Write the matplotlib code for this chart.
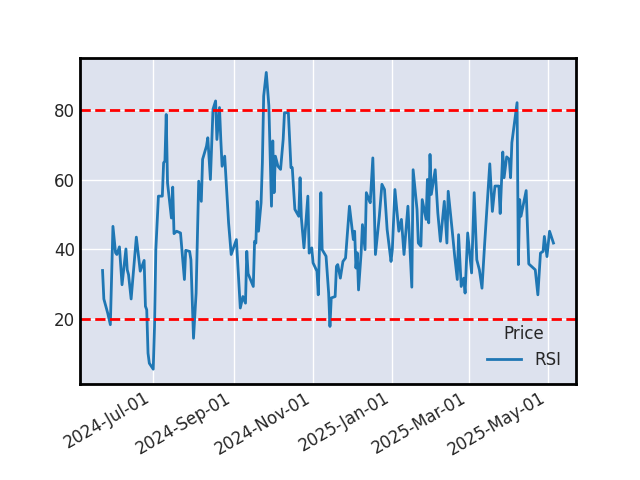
import matplotlib
matplotlib.use("Agg")
import matplotlib.pyplot as plt
import matplotlib.dates as mdates
import pandas as pd

dates = [
    "2024-05-23", "2024-05-24", "2024-05-27", "2024-05-29", "2024-05-31", "2024-06-02",
    "2024-06-03", "2024-06-05", "2024-06-07", "2024-06-10", "2024-06-11", "2024-06-12",
    "2024-06-14", "2024-06-18", "2024-06-21", "2024-06-24", "2024-06-25", "2024-06-26",
    "2024-06-27", "2024-06-28", "2024-07-01", "2024-07-02", "2024-07-03", "2024-07-05",
    "2024-07-08", "2024-07-09", "2024-07-10", "2024-07-11", "2024-07-12", "2024-07-15",
    "2024-07-16", "2024-07-17", "2024-07-19", "2024-07-22", "2024-07-25", "2024-07-26",
    "2024-07-29", "2024-07-30", "2024-08-01", "2024-08-03", "2024-08-05", "2024-08-07",
    "2024-08-08", "2024-08-11", "2024-08-12", "2024-08-14", "2024-08-16", "2024-08-18",
    "2024-08-19", "2024-08-21", "2024-08-22", "2024-08-23", "2024-08-25", "2024-08-28",
    "2024-08-30", "2024-09-03", "2024-09-06", "2024-09-08", "2024-09-10", "2024-09-11",
    "2024-09-12", "2024-09-16", "2024-09-17", "2024-09-18", "2024-09-19", "2024-09-20",
    "2024-09-22", "2024-09-23", "2024-09-24", "2024-09-26", "2024-09-28", "2024-09-30",
    "2024-10-01", "2024-10-02", "2024-10-03", "2024-10-05", "2024-10-07", "2024-10-09",
    "2024-10-10", "2024-10-13", "2024-10-15", "2024-10-16", "2024-10-18", "2024-10-21",
    "2024-10-22", "2024-10-23", "2024-10-25", "2024-10-28", "2024-10-29", "2024-10-31",
    "2024-11-01", "2024-11-04", "2024-11-05", "2024-11-07", "2024-11-08", "2024-11-11",
    "2024-11-13", "2024-11-14", "2024-11-15", "2024-11-18", "2024-11-19", "2024-11-20",
    "2024-11-22", "2024-11-24", "2024-11-26", "2024-11-29", "2024-12-02", "2024-12-03",
    "2024-12-04", "2024-12-05", "2024-12-06", "2024-12-08", "2024-12-09", "2024-12-11",
    "2024-12-12", "2024-12-14", "2024-12-15", "2024-12-17", "2024-12-18", "2024-12-19",
    "2024-12-22", "2024-12-24", "2024-12-26", "2024-12-28", "2024-12-31", "2025-01-01",
    "2025-01-03", "2025-01-06", "2025-01-08", "2025-01-10", "2025-01-13", "2025-01-16",
    "2025-01-17", "2025-01-20", "2025-01-21", "2025-01-23", "2025-01-24", "2025-01-27",
    "2025-01-28", "2025-01-29", "2025-01-30", "2025-01-31", "2025-02-03", "2025-02-05",
    "2025-02-07", "2025-02-10", "2025-02-12", "2025-02-13", "2025-02-16", "2025-02-18",
    "2025-02-20", "2025-02-21", "2025-02-23", "2025-02-25", "2025-02-26", "2025-02-28",
    "2025-03-03", "2025-03-05", "2025-03-07", "2025-03-09", "2025-03-11", "2025-03-13",
    "2025-03-17", "2025-03-19", "2025-03-21", "2025-03-24", "2025-03-25", "2025-03-27",
    "2025-03-28", "2025-03-30", "2025-04-01", "2025-04-02", "2025-04-03", "2025-04-07",
    "2025-04-08", "2025-04-09", "2025-04-10", "2025-04-14", "2025-04-16", "2025-04-21",
    "2025-04-23", "2025-04-25", "2025-04-27", "2025-04-28", "2025-04-30", "2025-05-02",
    "2025-05-05",
]

rsi = [
    33.9, 25.7, 21.6, 18.3, 46.6, 39.0,
    38.5, 40.7, 29.8, 40.1, 34.1, 32.7,
    25.7, 43.5, 33.7, 36.8, 23.6, 22.6,
    10.1, 7.2, 5.5, 17.8, 39.9, 55.3,
    55.3, 64.9, 65.4, 78.8, 59.1, 49.0,
    57.9, 44.5, 45.2, 44.7, 31.3, 39.7,
    39.4, 37.0, 14.4, 27.4, 59.6, 53.8,
    65.9, 69.7, 72.1, 60.1, 80.3, 82.7,
    71.6, 80.8, 71.6, 63.9, 66.8, 47.6,
    38.5, 42.8, 23.1, 26.4, 24.5, 39.4,
    33.0, 29.3, 42.3, 41.8, 53.8, 45.2,
    53.4, 64.9, 84.1, 90.9, 81.3, 52.4,
    71.2, 56.3, 66.8, 63.9, 63.0, 71.6,
    79.3, 79.3, 63.5, 63.5, 51.5, 49.5,
    60.6, 49.0, 40.4, 55.3, 38.9, 40.4,
    36.1, 33.7, 26.9, 56.3, 39.9, 38.0,
    27.4, 17.8, 26.0, 26.4, 35.1, 35.6,
    31.7, 36.5, 37.5, 52.4, 42.8, 45.2,
    34.6, 39.0, 28.3, 39.0, 47.1, 39.9,
    56.3, 54.3, 53.4, 66.3, 53.4, 38.5,
    49.5, 58.7, 57.2, 45.7, 36.5, 39.9,
    57.2, 45.2, 48.6, 38.5, 52.4, 29.1,
    62.9, 51.5, 41.8, 40.9, 54.3, 48.6,
    60.1, 47.6, 67.3, 55.8, 62.9, 50.5,
    42.3, 53.8, 41.8, 56.7, 45.7, 38.0,
    31.3, 44.2, 29.3, 31.7, 27.4, 44.7,
    33.2, 56.3, 37.0, 34.1, 28.8, 41.3,
    64.6, 50.9, 58.2, 58.2, 50.3, 68.0,
    60.6, 66.6, 65.9, 60.6, 70.7, 82.2,
    35.6, 54.3, 49.5, 56.9, 35.8, 34.1,
    26.9, 38.9, 39.4, 43.7, 37.9, 45.2,
    41.8,
]

overbought = 80
oversold = 20

x = pd.to_datetime(dates)

fig, ax = plt.subplots(figsize=(6.4, 4.8), dpi=100)
ax.set_facecolor("#dde2ee")
ax.grid(True, color="white", linewidth=1.0)
ax.set_axisbelow(True)
for s in ax.spines.values():
    s.set_color("black")
    s.set_linewidth(2)
ax.tick_params(length=0, labelsize=12, colors="#262626")

ax.plot(x, rsi, color="#1f77b4", linewidth=2, label="RSI")
ax.axhline(overbought, color="red", linestyle="--", linewidth=2)
ax.axhline(oversold, color="red", linestyle="--", linewidth=2)

ax.set_yticks([20, 40, 60, 80])
ax.xaxis.set_major_locator(mdates.MonthLocator(bymonth=[1, 3, 5, 7, 9, 11]))
ax.xaxis.set_major_formatter(mdates.DateFormatter("%Y-%b-%d"))

leg = ax.legend(title="Price", loc="lower right", frameon=False, fontsize=12, title_fontsize=12)
for t in leg.get_texts():
    t.set_color("#262626")
leg.get_title().set_color("#262626")

fig.autofmt_xdate()
fig.savefig("out.png", dpi=100)
